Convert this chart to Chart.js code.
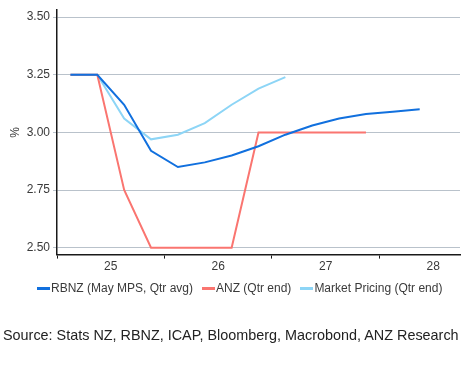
<!DOCTYPE html>
<html>
<head>
<meta charset="utf-8">
<script src="https://cdn.jsdelivr.net/npm/chart.js@4/dist/chart.umd.min.js"></script>
<style>
  html, body { margin: 0; padding: 0; background: #fff; }
  #wrap { position: relative; width: 471px; height: 365px; font-family: "Liberation Sans", Arial, sans-serif; }
  #chart { position: absolute; left: 0; top: 0; }
  #legend { position: absolute; left: 37px; top: 281px; display: flex; gap: 9px; font-size: 12px; color: #3a3a3a; white-space: nowrap; }
  #legend .item { display: flex; align-items: center; }
  #legend .box { width: 13px; height: 3px; margin-right: 1px; }
  #source { position: absolute; left: 3px; top: 327px; font-size: 14.4px; color: #222; white-space: nowrap; }
</style>
</head>
<body>
<div id="wrap">
  <canvas id="chart" width="471" height="365"></canvas>
  <div id="legend"></div>
  <div id="source">Source: Stats NZ, RBNZ, ICAP, Bloomberg, Macrobond, ANZ Research</div>
</div>
<script>
// quarterly points, 2025 Q1 .. 2028 Q2
const quarters = ['2025Q1', '2025Q2', '2025Q3', '2025Q4', '2026Q1', '2026Q2', '2026Q3', '2026Q4',
    '2027Q1', '2027Q2', '2027Q3', '2027Q4', '2028Q1', '2028Q2'];
const rbnz = [3.25, 3.25, 3.12, 2.92, 2.85, 2.87, 2.90, 2.94, 2.99, 3.03, 3.06, 3.08, 3.09, 3.10];
const anz = [3.25, 3.25, 2.75, 2.50, 2.50, 2.50, 2.50, 3.00, 3.00, 3.00, 3.00, 3.00];
const market = [3.25, 3.25, 3.06, 2.97, 2.99, 3.04, 3.12, 3.19, 3.24];
const yearTicks = [2025, 2026, 2027, 2028];
const yTicks = [2.50, 2.75, 3.00, 3.25, 3.50];

const colors = {
    rbnz: '#1170de',
    anz: '#fa7570',
    market: '#8dd5f6',
    grid: '#b9c2cb',
    axis: '#1a1a1a',
    text: '#3a3a3a',
};
const font = { family: '"Liberation Sans", Arial, sans-serif', size: 12 };

// put each quarter at the middle of its quarter on a year scale
function quarterX(q) {
    const year = Number(q.slice(0, 4));
    const n = Number(q.slice(5));
    return year + (n - 0.5) / 4;
}

function series(values) {
    return values.map((v, i) => ({ x: quarterX(quarters[i]), y: v }));
}

function line(label, values, color) {
    return {
        label,
        data: series(values),
        borderColor: color,
        backgroundColor: color,
        borderWidth: 2,
        pointRadius: 0,
        tension: 0,
    };
}

const X_MIN = 2025, X_MAX = 2028.75;
const PLOT_LEFT = 57, PLOT_RIGHT = 460;
const halfYear = (PLOT_RIGHT - PLOT_LEFT) / (X_MAX - X_MIN) / 2;

const chart = new Chart(document.getElementById('chart'), {
    type: 'line',
    data: {
        datasets: [
            line('RBNZ (May MPS, Qtr avg)', rbnz, colors.rbnz),
            line('ANZ (Qtr end)', anz, colors.anz),
            line('Market Pricing (Qtr end)', market, colors.market),
        ],
    },
    options: {
        responsive: false,
        animation: false,
        layout: { padding: { top: 8, right: 11, left: 0, bottom: 90 } },
        plugins: {
            tooltip: { enabled: false },
            legend: { display: false },
        },
        scales: {
            x: {
                type: 'linear',
                min: X_MIN,
                max: X_MAX,
                afterBuildTicks: (scale) => { scale.ticks = yearTicks.map((v) => ({ value: v })); },
                ticks: {
                    color: colors.text,
                    font,
                    labelOffset: halfYear,
                    maxRotation: 0,
                    padding: 1,
                    callback: (v) => String(v).slice(2),
                },
                grid: { drawOnChartArea: false, color: colors.axis, tickLength: 4 },
                border: { color: colors.axis, width: 1.5 },
            },
            y: {
                min: 2.47,
                max: 3.53,
                afterBuildTicks: (scale) => { scale.ticks = yTicks.map((v) => ({ value: v })); },
                afterFit: (scale) => { scale.width = PLOT_LEFT; },
                title: { display: true, text: '%', color: colors.text, font, padding: { top: 8, bottom: 0 } },
                ticks: {
                    color: colors.text,
                    font,
                    padding: 3,
                    callback: (v) => v.toFixed(2),
                },
                grid: { color: colors.grid, tickLength: 4 },
                border: { color: colors.axis, width: 1.5 },
            },
        },
    },
});

// legend built from the chart's own datasets
const legend = document.getElementById('legend');
chart.data.datasets.forEach((ds) => {
    const item = document.createElement('span');
    item.className = 'item';
    item.innerHTML = `<span class="box" style="background:${ds.borderColor}"></span><span>${ds.label}</span>`;
    legend.appendChild(item);
});
</script>
</body>
</html>
